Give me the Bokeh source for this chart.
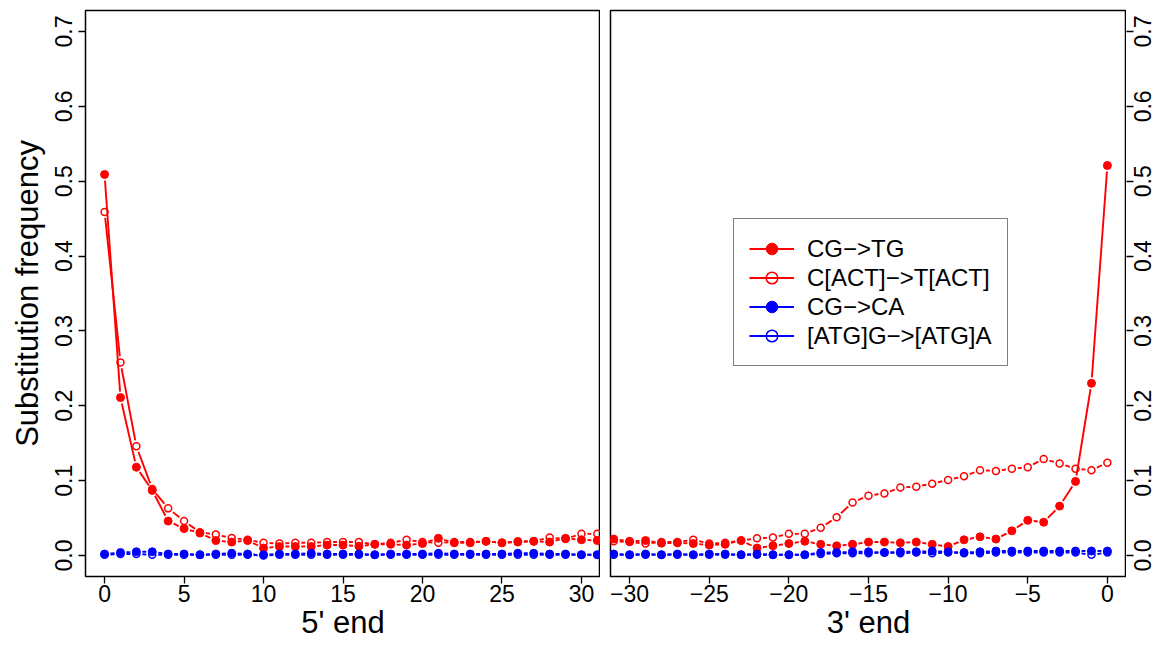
import math
from bokeh.plotting import figure
from bokeh.models import FixedTicker, Legend, LegendItem, Range1d
from bokeh.layouts import row
from bokeh.embed import file_html
from bokeh.resources import INLINE

# ---------------- data ----------------
pos5 = list(range(0, 32))
pos3 = list(range(-31, 1))

cg_tg_5 = [0.509, 0.211, 0.118, 0.087, 0.046, 0.036, 0.030, 0.020, 0.018, 0.020,
           0.010, 0.012, 0.012, 0.012, 0.014, 0.014, 0.0125, 0.015, 0.015, 0.014,
           0.016, 0.023, 0.017, 0.017, 0.019, 0.017, 0.018, 0.019, 0.018, 0.023,
           0.021, 0.020]
c_act_5 = [0.459, 0.258, 0.146, 0.089, 0.063, 0.046, 0.031, 0.028, 0.0235, 0.021,
           0.017, 0.016, 0.017, 0.017, 0.018, 0.018, 0.018, 0.015, 0.017, 0.021,
           0.018, 0.017, 0.018, 0.018, 0.019, 0.017, 0.019, 0.019, 0.024, 0.022,
           0.029, 0.029]
cg_ca_5 = [0.002, 0.004, 0.005, 0.005, 0.002, 0.002, 0.001, 0.002, 0.003, 0.002,
           0.001, 0.002, 0.002, 0.003, 0.002, 0.002, 0.002, 0.001, 0.002, 0.002,
           0.002, 0.003, 0.002, 0.002, 0.002, 0.002, 0.003, 0.003, 0.002, 0.002,
           0.001, 0.001]
atg_5 = [0.001, 0.002, 0.002, 0.001, 0.001, 0.001, 0.001, 0.001, 0.001, 0.001,
         0.000, 0.001, 0.001, 0.001, 0.001, 0.001, 0.001, 0.001, 0.001, 0.001,
         0.001, 0.001, 0.001, 0.001, 0.001, 0.001, 0.001, 0.001, 0.001, 0.001,
         0.001, 0.001]

cg_tg_3 = [0.022, 0.019, 0.020, 0.0165, 0.017, 0.016, 0.014, 0.015, 0.020, 0.010,
           0.013, 0.016, 0.019, 0.015, 0.013, 0.015, 0.018, 0.018, 0.017, 0.018,
           0.015, 0.012, 0.021, 0.025, 0.022, 0.033, 0.047, 0.0445, 0.066, 0.099,
           0.230, 0.521]
c_act_3 = [0.019, 0.018, 0.016, 0.018, 0.018, 0.021, 0.016, 0.017, 0.020, 0.023,
           0.024, 0.029, 0.029, 0.037, 0.051, 0.071, 0.080, 0.083, 0.091, 0.092,
           0.096, 0.101, 0.106, 0.114, 0.113, 0.116, 0.118, 0.129, 0.123, 0.116,
           0.114, 0.124]
cg_ca_3 = [0.002, 0.001, 0.002, 0.001, 0.002, 0.001, 0.002, 0.002, 0.001, 0.002,
           0.001, 0.001, 0.001, 0.004, 0.004, 0.005, 0.005, 0.004, 0.005, 0.005,
           0.006, 0.005, 0.004, 0.005, 0.006, 0.006, 0.006, 0.006, 0.006, 0.006,
           0.006, 0.006]
atg_3 = [0.001, 0.001, 0.001, 0.001, 0.001, 0.001, 0.001, 0.001, 0.001, 0.001,
         0.001, 0.001, 0.001, 0.002, 0.003, 0.003, 0.003, 0.004, 0.003, 0.004,
         0.003, 0.004, 0.003, 0.003, 0.004, 0.004, 0.004, 0.004, 0.004, 0.004,
         0.001, 0.004]

series_names = ["CG\u2212>TG", "C[ACT]\u2212>T[ACT]", "CG\u2212>CA", "[ATG]G\u2212>[ATG]A"]
series_colors = ["#ff0000", "#ff0000", "#0000ff", "#0000ff"]
series_filled = [True, False, True, False]

y_ticks = [0.0, 0.1, 0.2, 0.3, 0.4, 0.5, 0.6, 0.7]
y_tick_labels = ["0.0", "0.1", "0.2", "0.3", "0.4", "0.5", "0.6", "0.7"]
x5_ticks = [0, 5, 10, 15, 20, 25, 30]
x3_ticks = [-30, -25, -20, -15, -10, -5, 0]

# ---------------- style ----------------
FONT = "Liberation Sans"
FRAME_H = 566
Y0, Y1 = -0.028, 0.728
GAP = 6.0


def gapped(xs, ys, sx, sy, gap):
    x0, y0, x1, y1 = [], [], [], []
    for i in range(len(xs) - 1):
        ddx = xs[i + 1] - xs[i]
        ddy = ys[i + 1] - ys[i]
        L = math.hypot(ddx * sx, ddy * sy)
        if L <= 2 * gap:
            continue
        f = gap / L
        x0.append(xs[i] + f * ddx)
        y0.append(ys[i] + f * ddy)
        x1.append(xs[i + 1] - f * ddx)
        y1.append(ys[i + 1] - f * ddy)
    return dict(x0=x0, y0=y0, x1=x1, y1=y1)


def style_axis(ax, ticks, labels, orient=None):
    ax.ticker = FixedTicker(ticks=ticks)
    ax.major_label_overrides = {t: l for t, l in zip(ticks, labels)}
    ax.axis_line_color = None
    ax.major_tick_line_color = "black"
    ax.major_tick_line_width = 1.3
    ax.major_tick_out = 7
    ax.major_tick_in = 0
    ax.minor_tick_out = 0
    ax.minor_tick_in = 0
    ax.major_label_text_font = FONT
    ax.major_label_text_font_size = "23px"
    ax.major_label_text_color = "black"
    ax.major_label_standoff = 6
    ax.axis_label_text_font = FONT
    ax.axis_label_text_font_size = "31px"
    ax.axis_label_text_font_style = "normal"
    ax.axis_label_text_color = "black"
    if orient is not None:
        ax.major_label_orientation = orient


def make_fig(xr, frame_w, y_loc, mbl, mbr):
    p = figure(frame_width=frame_w, frame_height=FRAME_H,
               x_range=Range1d(*xr), y_range=Range1d(Y0, Y1),
               y_axis_location=y_loc,
               output_backend="svg", toolbar_location=None,
               min_border_left=mbl, min_border_right=mbr,
               min_border_top=10, min_border_bottom=77)
    p.xgrid.visible = False
    p.ygrid.visible = False
    p.outline_line_color = "black"
    p.outline_line_width = 1.5
    p.background_fill_color = "white"
    p.border_fill_color = "white"
    return p


def draw(p, xs, ys_list, xr, frame_w):
    sx = frame_w / (xr[1] - xr[0])
    sy = FRAME_H / (Y1 - Y0)
    rends = []
    for ys, col, filled in zip(ys_list, series_colors, series_filled):
        seg = p.segment(x0="x0", y0="y0", x1="x1", y1="y1",
                        source=gapped(xs, ys, sx, sy, GAP),
                        line_color=col, line_width=1.9)
        if filled:
            sc = p.scatter(xs, ys, marker="circle", size=8, fill_color=col,
                           line_color=col, line_width=1)
        else:
            sc = p.scatter(xs, ys, marker="circle", size=7, fill_color=None,
                           line_color=col, line_width=1.5)
        rends.append((seg, sc))
    return rends


XR5 = (-1.2, 31.2)
XR3 = (-31.2, 1.2)
FW1, FW2 = 515, 516

# ---- left panel (5' end) ----
p1 = make_fig(XR5, FW1, "left", 85, 0)
draw(p1, pos5, [cg_tg_5, c_act_5, cg_ca_5, atg_5], XR5, FW1)
style_axis(p1.xaxis[0], x5_ticks, [str(t) for t in x5_ticks])
style_axis(p1.yaxis[0], y_ticks, y_tick_labels, orient="vertical")
p1.xaxis[0].axis_label = "5' end"
p1.yaxis[0].axis_label = "Substitution frequency"
p1.xaxis[0].major_label_standoff = 1
p1.xaxis[0].axis_label_standoff = 0
p1.yaxis[0].axis_label_standoff = 8

# ---- right panel (3' end) ----
p2 = make_fig(XR3, FW2, None, 10, 0)
rends = draw(p2, pos3, [cg_tg_3, c_act_3, cg_ca_3, atg_3], XR3, FW2)
style_axis(p2.xaxis[0], x3_ticks, [str(t).replace("-", "\u2212") for t in x3_ticks])
p2.xaxis[0].axis_label = "3' end"
p2.xaxis[0].major_label_standoff = 1
p2.xaxis[0].axis_label_standoff = 0

items = [LegendItem(label=n, renderers=list(r)) for n, r in zip(series_names, rends)]
legend = Legend(items=items, location=(123, 210),
                label_text_font=FONT, label_text_font_size="24px",
                label_text_color="black",
                label_height=29, glyph_height=29, glyph_width=45,
                label_standoff=13, spacing=0, padding=15, margin=0,
                border_line_color="black", border_line_width=1.2,
                background_fill_color="white", background_fill_alpha=1.0)
p2.add_layout(legend)

# ---- right-hand y axis strip (ticks point into the strip, labels read bottom-to-top) ----
p3 = figure(frame_width=32, frame_height=FRAME_H,
            x_range=Range1d(0, 1), y_range=p2.y_range,
            x_axis_location=None, y_axis_location="left",
            output_backend="svg", toolbar_location=None,
            min_border_left=0, min_border_right=0,
            min_border_top=10, min_border_bottom=77)
p3.xgrid.visible = False
p3.ygrid.visible = False
p3.outline_line_color = None
p3.background_fill_color = "white"
p3.border_fill_color = "white"
style_axis(p3.yaxis[0], y_ticks, y_tick_labels, orient="vertical")
p3.yaxis[0].major_tick_out = 0
p3.yaxis[0].major_tick_in = 7
p3.yaxis[0].major_label_standoff = -25

layout = row(p1, p2, p3)
open("out.html", "w").write(file_html(layout, INLINE))
